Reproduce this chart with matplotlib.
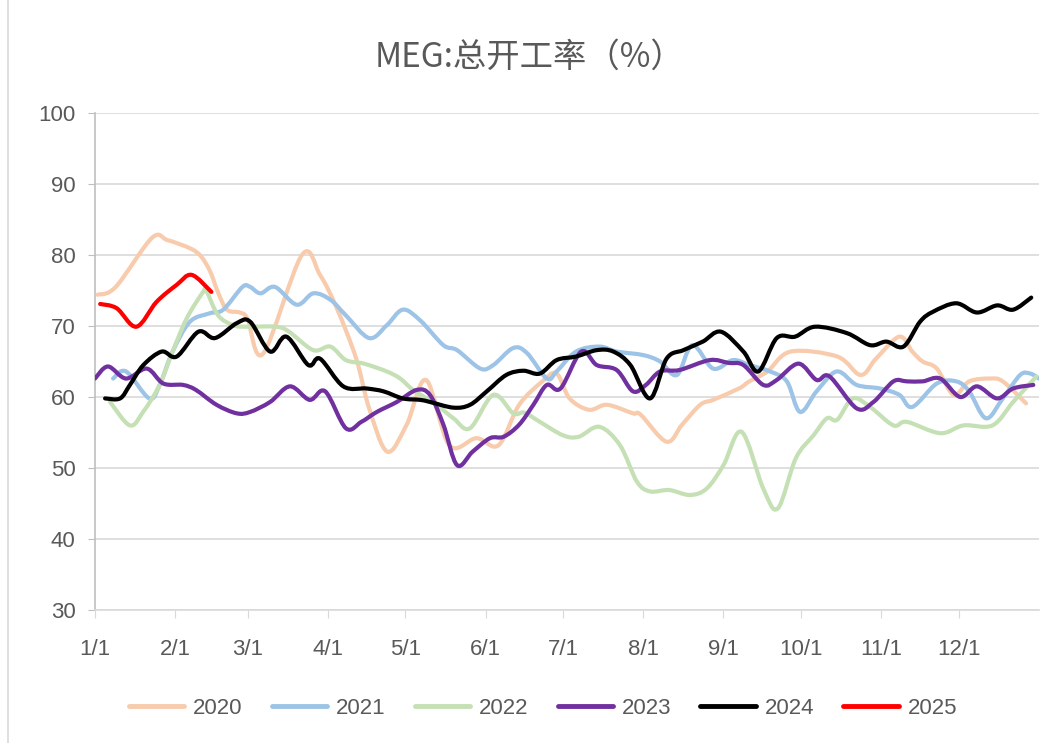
import numpy as np
import matplotlib
matplotlib.use("Agg")
import matplotlib.pyplot as plt
from matplotlib.path import Path
from matplotlib.patches import PathPatch
from matplotlib.lines import Line2D

plt.rcParams['font.family'] = ['Liberation Sans', 'DejaVu Sans']

# x axis: day of year (0 = Jan 1)
month_labels = ["1/1", "2/1", "3/1", "4/1", "5/1", "6/1",
                "7/1", "8/1", "9/1", "10/1", "11/1", "12/1"]
month_days = [0, 31, 59, 90, 120, 151, 181, 212, 243, 273, 304, 334]

# weekly readings, (day of year, operating rate %)
d2020 = [1, 8, 22, 28, 37, 41, 44.5, 47.5, 51, 56, 59, 65, 80, 87, 93.5, 101, 106, 113,
         120.5, 128, 137, 147.5, 156, 164, 173, 178.5, 183.5, 191, 198, 208, 211, 221,
         227, 234, 239, 249, 253, 260, 269, 287, 296, 302, 311, 316, 320, 325.5, 332,
         338, 346, 351, 360]
v2020 = [74.4, 75.5, 82.4, 82.1, 80.9, 79.8, 77.7, 74.8, 72.3, 71.9, 71.0, 66.1, 80.0,
         77.2, 72.5, 65.4, 58.4, 52.3, 56.1, 62.4, 53.2, 54.2, 53.2, 58.9, 62.2, 63.3,
         59.8, 58.2, 58.9, 57.7, 57.5, 53.7, 56.1, 58.9, 59.6, 61.2, 62.2, 63.6, 66.4,
         65.7, 63.1, 65.4, 68.5, 66.4, 65.0, 64.0, 60.3, 62.2, 62.6, 62.2, 59.1]

d2021 = [7, 12, 21, 25, 30, 36.7, 44.5, 49.6, 57, 60, 64, 69.6, 78, 84.4, 91, 97, 106,
         112.8, 119, 125.7, 134.7, 140, 149, 154, 161.7, 167, 174.7, 178.5, 186, 195,
         201.7, 212, 218.5, 225, 231, 239, 246.7, 253, 261, 267.5, 272.6, 279, 286.8,
         294.5, 303.5, 311, 316, 325.5, 333, 338, 344.5, 351, 357.7, 361.6, 365]
v2021 = [62.6, 63.6, 59.8, 61.7, 66.4, 70.6, 71.8, 72.3, 75.5, 75.5, 74.6, 75.5, 73.0,
         74.6, 73.7, 71.5, 68.3, 70.1, 72.3, 70.8, 67.3, 66.6, 64.0, 64.5, 66.9, 66.2,
         62.6, 63.6, 66.4, 67.1, 66.4, 65.9, 65.0, 63.1, 67.3, 64.0, 65.2, 64.5, 63.6,
         62.2, 57.9, 60.8, 63.6, 61.7, 61.2, 60.3, 58.6, 61.9, 62.2, 60.8, 57.0, 59.8,
         63.1, 63.3, 62.6]

d2022 = [5.8, 13.5, 18.6, 25, 30, 35.5, 41.8, 43, 47.6, 53.5, 58.6, 70, 75, 84.4, 91,
         97, 104, 112.8, 118, 123, 132, 138.6, 145, 154, 161.7, 166, 172, 181, 187, 195,
         203, 209.5, 214.6, 222, 230, 236.5, 243, 250, 258.4, 264, 271, 277.8, 283, 287,
         293, 299.7, 308.7, 313.9, 326.8, 335.8, 347, 355, 364]
v2022 = [59.3, 56.0, 57.9, 61.7, 66.4, 71.1, 74.8, 75.0, 71.5, 70.1, 69.9, 69.9, 69.2,
         66.6, 67.1, 65.2, 64.7, 63.6, 62.6, 61.0, 58.9, 57.0, 55.6, 60.3, 57.7, 57.8,
         56.5, 54.6, 54.4, 55.8, 53.2, 48.1, 46.7, 46.9, 46.2, 47.1, 50.4, 55.1, 47.1,
         44.3, 51.4, 54.6, 57.0, 56.8, 59.8, 58.6, 56.0, 56.5, 54.9, 56.0, 56.0, 59.3,
         62.9]

d2023 = [0, 5, 12, 20, 26.4, 34, 39, 47, 54.8, 60, 67.7, 75.4, 83, 89, 97, 103, 109,
         116.7, 124.4, 129.5, 134.7, 140, 146, 152.7, 158, 164, 169.5, 174.7, 180, 188,
         194, 201.7, 208, 213, 218.5, 226, 237.7, 245, 250.7, 258.4, 263.6, 272, 279, 284,
         294.5, 301, 308.7, 313.9, 320, 326.8, 334.5, 341, 348.8, 355, 362.8]
v2023 = [62.6, 64.3, 62.6, 64.0, 61.9, 61.7, 61.0, 58.9, 57.7, 57.9, 59.3, 61.5, 59.6,
         60.8, 55.6, 56.5, 57.9, 59.3, 61.0, 60.3, 56.1, 50.4, 52.3, 54.2, 54.4, 56.1,
         58.9, 61.7, 61.2, 66.4, 64.5, 63.8, 60.8, 61.7, 63.6, 63.8, 65.2, 64.8, 64.5,
         61.7, 62.4, 64.7, 62.4, 62.9, 58.4, 59.3, 62.2, 62.2, 62.2, 62.6, 60.0, 61.5,
         59.8, 61.2, 61.7]

d2024 = [3.9, 9.7, 13.5, 18.7, 25.8, 31.6, 40, 46.4, 54.8, 60, 67.7, 74, 82.5, 87, 96,
         105, 111.5, 119, 125.7, 129.5, 138.6, 145, 151.5, 159, 165.6, 172, 178.5, 186,
         194, 200.4, 207, 214.6, 221, 227.5, 235, 242, 250.7, 256.5, 263.6, 270.7, 278.4,
         290.7, 299.7, 306, 312.6, 319, 324, 333, 341, 348.8, 355, 362]
v2024 = [59.8, 59.8, 61.7, 64.5, 66.4, 65.7, 69.2, 68.3, 70.4, 70.6, 66.4, 68.5, 64.5,
         65.4, 61.5, 61.2, 60.8, 59.8, 59.6, 59.3, 58.5, 58.9, 60.8, 63.1, 63.7, 63.3,
         65.2, 65.7, 66.6, 66.4, 64.5, 59.8, 65.4, 66.6, 67.8, 69.2, 66.4, 63.6, 68.3,
         68.5, 69.9, 69.0, 67.3, 67.8, 67.1, 70.6, 72.0, 73.2, 71.9, 72.9, 72.3, 74.0]

d2025 = [2, 8.4, 16, 23.8, 31.6, 37.4, 45]
v2025 = [73.1, 72.5, 69.9, 73.4, 75.8, 77.2, 74.8]

years = ["2020", "2021", "2022", "2023", "2024", "2025"]
colors = ["#F8CBAD", "#9DC3E6", "#C5E0B4", "#7030A0", "#000000", "#FF0000"]
series = [(d2020, v2020), (d2021, v2021), (d2022, v2022),
          (d2023, v2023), (d2024, v2024), (d2025, v2025)]


def smooth_path(x, y):
    # excel-style smoothed line: catmull-rom segments as cubic beziers
    pts = np.column_stack([x, y]).astype(float)
    n = len(pts)
    verts = [pts[0]]
    codes = [Path.MOVETO]
    for i in range(n - 1):
        p0 = pts[i - 1] if i > 0 else pts[i]
        p1 = pts[i]
        p2 = pts[i + 1]
        p3 = pts[i + 2] if i + 2 < n else pts[i + 1]
        verts += [p1 + (p2 - p0) / 6, p2 - (p3 - p1) / 6, p2]
        codes += [Path.CURVE4] * 3
    return Path(verts, codes)


fig = plt.figure(figsize=(10.63, 7.43), dpi=100)
ax = fig.add_axes([95 / 1063, 133 / 743, 944 / 1063, 497 / 743])

for (dd, vv), c in zip(series, colors):
    ax.add_patch(PathPatch(smooth_path(dd, vv), fill=False, edgecolor=c, lw=3.0,
                           capstyle='round', joinstyle='round', zorder=3))

ax.set_xlim(0, 365)
ax.set_ylim(30, 100)
ax.set_yticks(range(30, 101, 10))
ax.set_xticks(month_days)
ax.set_xticklabels(month_labels)

ax.grid(axis='y', color='#D9D9D9', lw=1.2)
ax.set_axisbelow(True)
for s in ['top', 'right']:
    ax.spines[s].set_visible(False)
ax.spines['left'].set_color('#BFBFBF')
ax.spines['bottom'].set_color('#D9D9D9')
ax.spines['left'].set_linewidth(1.2)
ax.spines['bottom'].set_linewidth(1.2)
ax.tick_params(axis='y', length=5, color='#BFBFBF', labelsize=16, labelcolor='#595959', pad=9)
ax.tick_params(axis='x', length=6, color='#D9D9D9', labelsize=16, labelcolor='#595959', pad=15)

fig.text(530 / 1063, 1 - 57 / 743, "MEG:总开工率（%）", ha='center', va='center',
         fontsize=24, color='#595959', family=['Noto Sans CJK SC', 'DejaVu Sans'])

handles = [Line2D([0], [0], color=c, lw=3.5, solid_capstyle='round') for c in colors]
fig.legend(handles, years, loc='center', bbox_to_anchor=(543 / 1063, 1 - 708 / 743),
           ncol=6, frameon=False, fontsize=16, handlelength=2.5, columnspacing=1.3,
           handletextpad=0.4, labelcolor='#595959')

fig.add_artist(Line2D([8 / 1063, 8 / 1063], [0, 1], color='#D9D9D9', lw=1.2))

fig.savefig("out.png", dpi=100)
